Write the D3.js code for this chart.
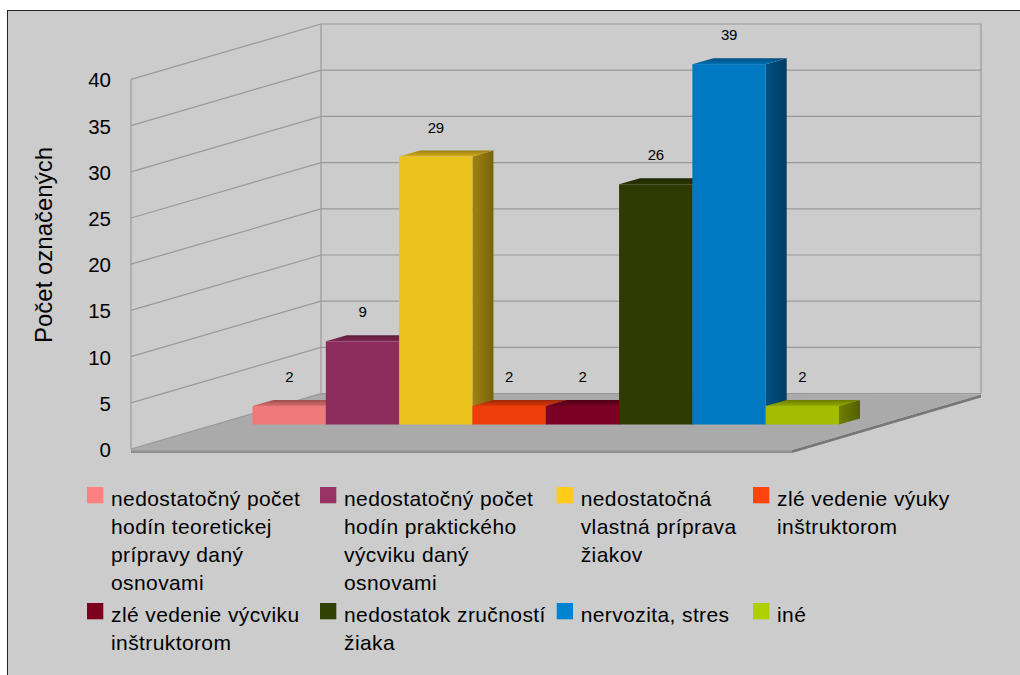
<!DOCTYPE html>
<html><head><meta charset="utf-8">
<script src="https://cdn.jsdelivr.net/npm/d3@7"></script>
<style>html,body{margin:0;padding:0;background:#fff}svg{display:block}text{font-family:"Liberation Sans",Arial,sans-serif;fill:#000}</style>
</head><body><svg id="c" width="1020" height="675"></svg>
<script>
const categories=["nedostatočný počet hodín teoretickej prípravy daný osnovami","nedostatočný počet hodín praktického výcviku daný osnovami","nedostatočná vlastná príprava žiakov","zlé vedenie výuky inštruktorom","zlé vedenie výcviku inštruktorom","nedostatok zručností žiaka","nervozita, stres","iné"];
const values=[2,9,29,2,2,26,39,2];
const colors=["#EF7878","#8B2C5C","#ECC21C","#F03E0A","#7A0024","#2E3A02","#0079C2","#A3BC00"];
const legendColors=["#FF8080","#993366","#FFCC19","#FF420E","#7E0021","#314004","#0084D1","#AECF00"];
const yTicks=[0,5,10,15,20,25,30,35,40];
const legendLines=[["nedostatočný počet","hodín teoretickej","prípravy daný","osnovami"],["nedostatočný počet","hodín praktického","výcviku daný","osnovami"],["nedostatočná","vlastná príprava","žiakov"],["zlé vedenie výuky","inštruktorom"],["zlé vedenie výcviku","inštruktorom"],["nedostatok zručností","žiaka"],["nervozita, stres"],["iné"]];
const yTitle="Počet označených";

const svg=d3.select("#c");
const defs=svg.append("defs");
svg.append("rect").attr("x",7.5).attr("y",10.5).attr("width",1020).attr("height",680).attr("fill","#CCCCCC").attr("stroke","#222").attr("stroke-width",1);

const h=d3.scaleLinear().domain([0,40]).range([0,369.6]);
const L=131,B=449,BL=321,BB=393.6,BR=981;
const g=svg.append("g");
g.append("polygon").attr("points",`${L},${B} 792,${B} 792,${B+4} ${L},${B+4}`).attr("fill","#8f8f8f");
g.append("polygon").attr("points",`792,${B+1} ${BR},${BB+1} ${BR},${BB+4} 792,${B+4}`).attr("fill","#777777");
g.append("polygon").attr("points",`${L},${B} ${BL},${BB} ${BR},${BB+1} 792,${B+1}`).attr("fill","#AAAAAA");
g.append("rect").attr("x",L).attr("y",B).attr("width",661).attr("height",1.5).attr("fill","#ABABAB");
const gc="#999999";
yTicks.forEach(t=>{
  g.append("polyline").attr("points",`${L},${B-h(t)} ${BL},${BB-h(t)} ${BR},${BB-h(t)}`).attr("fill","none").attr("stroke",gc).attr("stroke-width",1.2);
});
[[L,B],[BL,BB],[BR,BB]].forEach(([px,py])=>{
  g.append("line").attr("x1",px).attr("x2",px).attr("y1",py).attr("y2",py-h(40)).attr("stroke",gc).attr("stroke-width",1.2);
});

const yPos=d3.scaleLinear().domain([0,40]).range([B,B-369.6]);
svg.append("g").selectAll("text").data(yTicks).join("text")
 .attr("x",111).attr("y",d=>yPos(d)+8).attr("text-anchor","end").attr("font-size",20.5).text(d=>d);
svg.append("text").attr("transform","translate(52,245) rotate(-90)").attr("text-anchor","middle").attr("font-size",24).text(yTitle);

const x=d3.scaleBand().domain(d3.range(categories.length)).range([252.5,839]).padding(0);
const DX=21,DY=6,Y0=424.5;
colors.forEach((c,i)=>{
  const base=d3.color(c);
  const tg=defs.append("linearGradient").attr("id","t"+i).attr("x1",0).attr("y1",1).attr("x2",0).attr("y2",0);
  tg.append("stop").attr("offset",0).attr("stop-color",base.darker(0.25));
  tg.append("stop").attr("offset",1).attr("stop-color",base.darker(1.2));
  const sg=defs.append("linearGradient").attr("id","s"+i).attr("x1",0).attr("y1",0).attr("x2",1).attr("y2",0);
  sg.append("stop").attr("offset",0).attr("stop-color",base.darker(1.1));
  sg.append("stop").attr("offset",1).attr("stop-color",base.darker(1.9));
});
const bars=svg.append("g").selectAll("g").data(values).join("g");
bars.each(function(v,i){
  const s=d3.select(this),X=x(i),W=x.bandwidth(),T=Y0-h(v);
  s.append("polygon").attr("points",`${X+W},${Y0} ${X+W+DX},${Y0-DY} ${X+W+DX},${T-DY} ${X+W},${T}`).attr("fill",`url(#s${i})`);
  s.append("polygon").attr("points",`${X},${T} ${X+DX},${T-DY} ${X+W+DX},${T-DY} ${X+W},${T}`).attr("fill",`url(#t${i})`);
  s.append("rect").attr("x",X).attr("y",T).attr("width",W).attr("height",h(v)).attr("fill",colors[i]);
});
svg.append("g").selectAll("text").data(values).join("text")
 .attr("x",(d,i)=>x(i)+x.bandwidth()/2).attr("y",d=>Y0-h(d)-24)
 .attr("text-anchor","middle").attr("font-size",15).attr("letter-spacing",-0.4).text(d=>d);

const colX=[87,320,556.7,753];
const rowY=[487,603];
const lg=svg.append("g").selectAll("g").data(categories).join("g")
 .attr("transform",(d,i)=>`translate(${colX[i%4]},${rowY[Math.floor(i/4)]})`);
lg.append("rect").attr("width",16.3).attr("height",16.3).attr("fill",(d,i)=>legendColors[i]);
lg.each(function(d,i){
  d3.select(this).selectAll("text").data(legendLines[i]).join("text")
   .attr("x",24).attr("y",(l,k)=>19+k*28).attr("font-size",21).attr("letter-spacing",0.4).text(l=>l);
});
</script></body></html>
